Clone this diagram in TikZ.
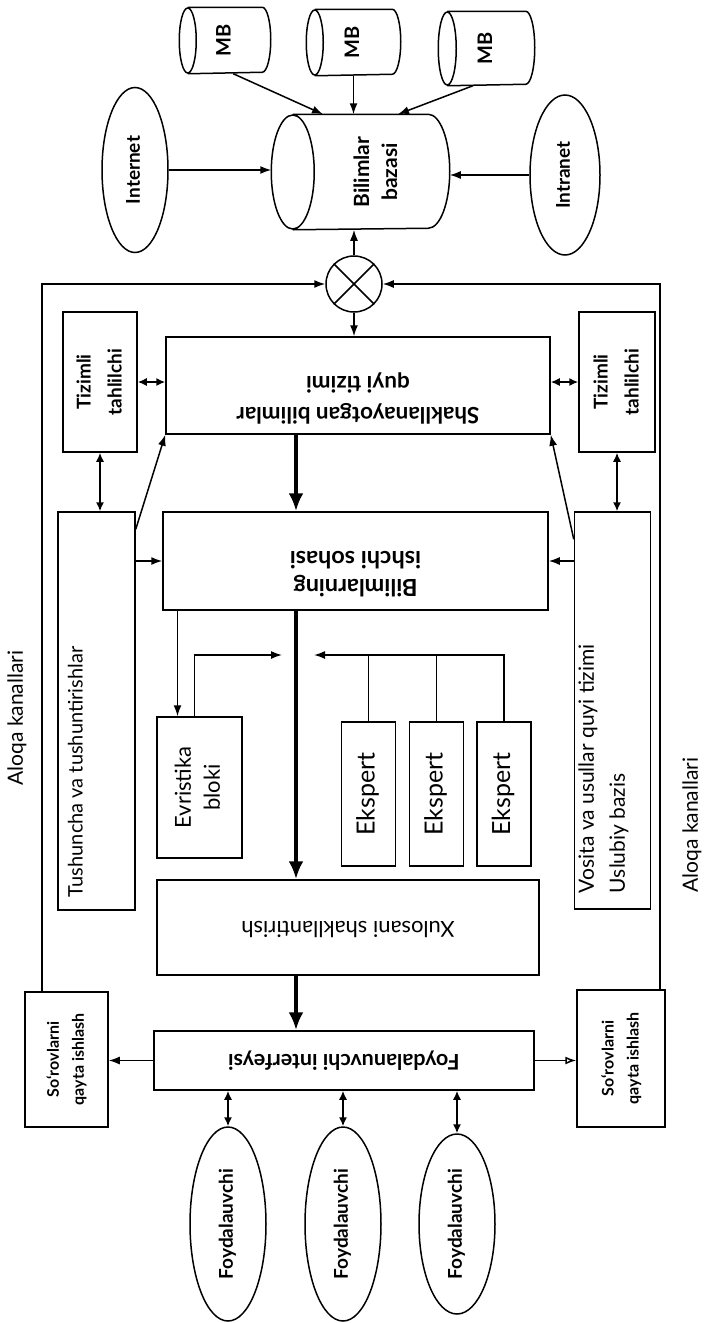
\documentclass[tikz,border=0pt]{standalone}
\usepackage{fontspec}
\setmainfont{Lato}
\usetikzlibrary{shapes.geometric, arrows.meta}

\newcommand{\uptext}[1]{\rotatebox{90}{\begin{tabular}{@{}c@{}}#1\end{tabular}}}
\newcommand{\fliptext}[1]{\rotatebox{180}{\begin{tabular}{@{}c@{}}#1\end{tabular}}}

\begin{document}
\begin{tikzpicture}[x=1pt, y=-1pt, line width=1.5pt, >={Latex[length=11pt, width=8pt]},
	box/.style={draw, rectangle, inner sep=0pt},
	oval/.style={draw, ellipse, inner sep=0pt, minimum width=76pt, font=\bfseries\fontsize{19}{24}\selectfont},
	db/.style={rectangle, inner sep=0pt, font=\bfseries\fontsize{20}{28}\selectfont},
	dbl/.style={<->, >={Latex[length=9pt, width=8pt]}},
	fat/.style={->, line width=4pt, >={Latex[length=18pt, width=15pt]}}]
	\useasboundingbox (0,0) rectangle (705,1323);

	\node[db, minimum width=90pt, minimum height=65pt] (mb1) at (225,40.5) {\uptext{MB}};
	\node[db, minimum width=93pt, minimum height=65pt] (mb2) at (353.5,42.5) {\uptext{MB}};
	\node[db, minimum width=95pt, minimum height=73pt] (mb3) at (486.5,48.5) {\uptext{MB}};
	\node[db, minimum width=177pt, minimum height=114pt, font=\bfseries\fontsize{21}{28}\selectfont] (bb) at (360.5,172) {\hspace*{34pt}\uptext{Bilimlar\\bazasi}};
	\foreach \c/\rx/\ry in {mb1/8.5/32.5, mb2/8.5/32.5, mb3/9/36.5, bb/21.5/57}
		\draw ([xshift=\rx pt]\c.north west) -- ([xshift=-\rx pt]\c.north east)
			arc[start angle=90, end angle=-90, x radius=\rx pt, y radius=\ry pt]
			-- ([xshift=\rx pt]\c.south west)
			([xshift=\rx pt]\c.west) ellipse [x radius=\rx pt, y radius=\ry pt];
	\node[oval, minimum width=66pt, minimum height=165pt] (inet) at (135,170) {\uptext{Internet}};
	\node[oval, minimum width=70pt, minimum height=160pt] (intra) at (565,175) {\uptext{Intranet}};
	\node[draw, circle, minimum size=56pt, inner sep=0pt] (cross) at (354,284) {};
	\draw (cross.north west) -- (cross.south east) (cross.north east) -- (cross.south west);

	\node[box, minimum width=74pt, minimum height=140pt, font=\bfseries\fontsize{19}{31}\selectfont] (tzL) at (100,382) {\uptext{Tizimli\\tahlilchi}};
	\node[box, minimum width=76pt, minimum height=140pt, font=\bfseries\fontsize{19}{31}\selectfont] (tzR) at (617,382) {\uptext{Tizimli\\tahlilchi}};
	\node[box, minimum width=384pt, minimum height=97pt, font=\bfseries\fontsize{22.5}{31}\selectfont] (shakl) at (358,385.5) {\raisebox{-8pt}[0pt][0pt]{\fliptext{Shakllanayotgan bilimlar\\quyi tizimi}}};
	\node[box, minimum width=77pt, minimum height=398pt, font=\fontsize{20}{30}\selectfont] (tush) at (96.5,711) {\rotatebox{90}{\parbox[c][57pt][t]{372pt}{\raggedright Tushuncha va tushuntirishlar}}};
	\node[box, minimum width=76pt, minimum height=397pt, font=\fontsize{21}{31}\selectfont] (vos) at (612.5,710.5) {\rotatebox{90}{\parbox[c][68pt][t]{365pt}{\raggedright Vosita va usullar quyi tizimi\\Uslubiy bazis}}};
	\node[box, minimum width=385pt, minimum height=98pt, font=\bfseries\fontsize{23.5}{28}\selectfont] (bil) at (355.5,561) {\raisebox{-4pt}[0pt][0pt]{\fliptext{Bilimlarning\\ishchi sohasi}}};
	\node[box, minimum width=85pt, minimum height=141pt, font=\fontsize{22}{29}\selectfont] (evr) at (199.5,787.5) {\uptext{Evristika\\bloki}};
	\foreach \n/\x in {1/368.5, 2/436.5, 3/504}
		\node[box, minimum width=54pt, minimum height=144pt, font=\fontsize{25}{30}\selectfont] (ek\n) at (\x,794) {\uptext{Ekspert}};
	\node[box, minimum width=382pt, minimum height=95pt, font=\fontsize{22}{28}\selectfont] (xul) at (348,927.5) {\fliptext{Xulosani shakllantirish}};
	\node[box, minimum width=380pt, minimum height=59pt, font=\bfseries\fontsize{21.5}{28}\selectfont] (ui) at (344,1060.5) {\fliptext{Foydalanuvchi interfeysi}};
	\node[box, minimum width=83pt, minimum height=135pt, font=\bfseries\fontsize{16}{25}\selectfont] (sorL) at (66.5,1059.5) {\uptext{So‘rovlarni\\qayta ishlash}};
	\node[box, minimum width=88pt, minimum height=137pt, font=\bfseries\fontsize{16}{25}\selectfont] (sorR) at (621,1058.5) {\uptext{So‘rovlarni\\qayta ishlash}};
	\foreach \n/\x/\h in {1/228/194, 2/343/194, 3/457/180}
		\node[oval, minimum height=\h pt] (u\n) at (\x,1224) {\uptext{Foydalauvchi}};
	\node[font=\fontsize{21}{24}\selectfont] (alL) at (18,718) {\uptext{Aloqa kanallari}};
	\node[font=\fontsize{21}{24}\selectfont] (alR) at (693,825) {\uptext{Aloqa kanallari}};

	\draw[->] (mb1.284) -- (bb.123);
	\draw[->] (mb2.270) -- (mb2.270 |- bb.90);
	\draw[->] (mb3.250) -- (bb.57);
	\draw[->] (inet.east) -- (inet.east -| bb.180);
	\draw[->] (intra.west) -- (intra.west -| bb.0);
	\draw[->] (cross.north) -- (cross.north |- bb.270);
	\draw[->] (cross.south) -- (cross.south |- shakl.north);
	\coordinate (fl) at (42,284);
	\coordinate (fr) at (660,284);
	\draw[->] (fl |- sorL.north) -- (fl) -- (cross.west);
	\draw[->] (fr |- sorR.north) -- (fr) -- (cross.east);
	\draw[dbl] (tzL.east) -- (tzL.east -| shakl.west);
	\draw[dbl] (tzR.west) -- (tzR.west -| shakl.east);
	\draw[dbl] (tzL.south) -- (tzL.south |- tush.north);
	\draw[dbl] (tzR.south) -- (tzR.south |- vos.north);
	\draw[->] ([yshift=-18pt]tush.north east) -- (shakl.south west);
	\draw[->] ([yshift=-28pt]vos.north west) -- (shakl.south east);
	\draw[->] (bil.west -| tush.east) -- (bil.west);
	\draw[->] (bil.east -| vos.west) -- (bil.east);
	\coordinate (trunk) at (296,0);
	\draw[fat] (trunk |- shakl.south) -- (trunk |- bil.north);
	\draw[fat] (trunk |- bil.south) -- (trunk |- xul.north);
	\draw[fat] (trunk |- xul.south) -- (trunk |- ui.north);
	\coordinate (evrin) at ([xshift=-22pt]evr.north);
	\draw[->] (evrin |- bil.south) -- (evrin);
	\coordinate (hin) at (282,655);
	\coordinate (ein) at (314,655);
	\draw[->] ([xshift=-5pt]evr.north) |- (hin);
	\draw[->] (ek3.north) |- (ein);
	\draw (ek1.north) -- (ek1.north |- ein);
	\draw (ek2.north) -- (ek2.north |- ein);
	\draw[->] (ui.west) -- (ui.west -| sorL.east);
	\draw[-{Latex[open, length=11pt, width=8pt]}] (ui.east) -- (ui.east -| sorR.west);
	\foreach \n in {1,2,3}
		\draw[dbl] (u\n.north |- ui.south) -- (u\n.north);
\end{tikzpicture}
\end{document}
